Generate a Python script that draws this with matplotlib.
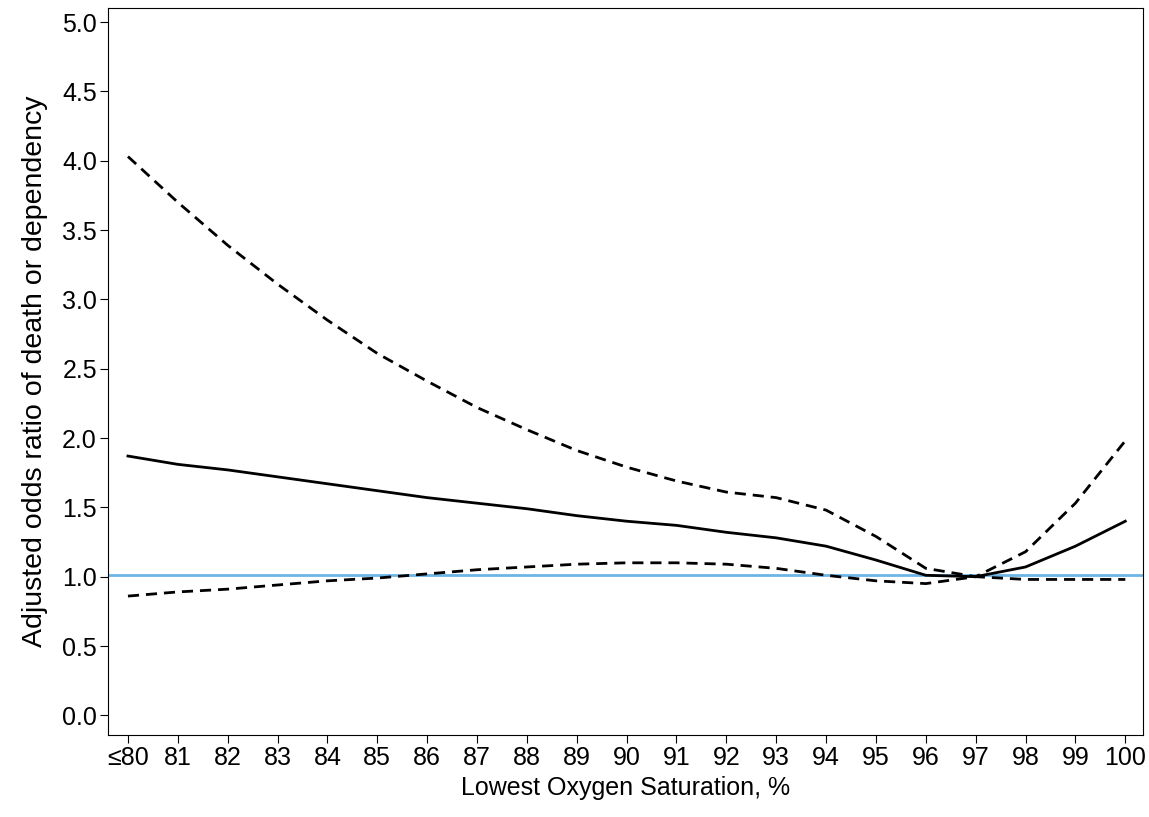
import matplotlib.pyplot as plt

sat = list(range(80, 101))
tick_labels = ["≤80"] + [str(v) for v in range(81, 101)]
odds = [1.87, 1.81, 1.77, 1.72, 1.67, 1.62, 1.57, 1.53, 1.49, 1.44, 1.40,
        1.37, 1.32, 1.28, 1.22, 1.12, 1.01, 1.00, 1.07, 1.22, 1.40]
upper = [4.03, 3.70, 3.39, 3.11, 2.85, 2.61, 2.41, 2.22, 2.06, 1.91, 1.79,
         1.69, 1.61, 1.57, 1.48, 1.29, 1.06, 1.00, 1.18, 1.53, 1.98]
lower = [0.86, 0.89, 0.91, 0.94, 0.97, 0.99, 1.02, 1.05, 1.07, 1.09, 1.10,
         1.10, 1.09, 1.06, 1.01, 0.97, 0.95, 1.00, 0.98, 0.98, 0.98]
ref_value = 1.01

plt.rcParams['font.family'] = ['Liberation Sans', 'DejaVu Sans']
fig = plt.figure(figsize=(11.49, 8.17), dpi=100)
ax = fig.add_axes([0.094, 0.100, 0.901, 0.890])

ax.axhline(ref_value, color='#6cb4e4', linewidth=2)
ax.plot(sat, odds, color='black', linewidth=2)
ax.plot(sat, upper, color='black', linewidth=2, linestyle=(0, (4, 2.5)))
ax.plot(sat, lower, color='black', linewidth=2, linestyle=(0, (4, 2.5)))

ax.set_xlim(79.6, 100.36)
ax.set_ylim(-0.144, 5.10)
ax.set_xticks(sat)
ax.set_xticklabels(tick_labels)
ax.set_yticks([i * 0.5 for i in range(11)])
ax.set_yticklabels([f"{i * 0.5:.1f}" for i in range(11)])
ax.tick_params(labelsize=18, length=6, pad=2)
ax.set_xlabel("Lowest Oxygen Saturation, %", fontsize=18, labelpad=4)
ax.set_ylabel("Adjusted odds ratio of death or dependency", fontsize=20.5, labelpad=10)

fig.savefig("out.png")
